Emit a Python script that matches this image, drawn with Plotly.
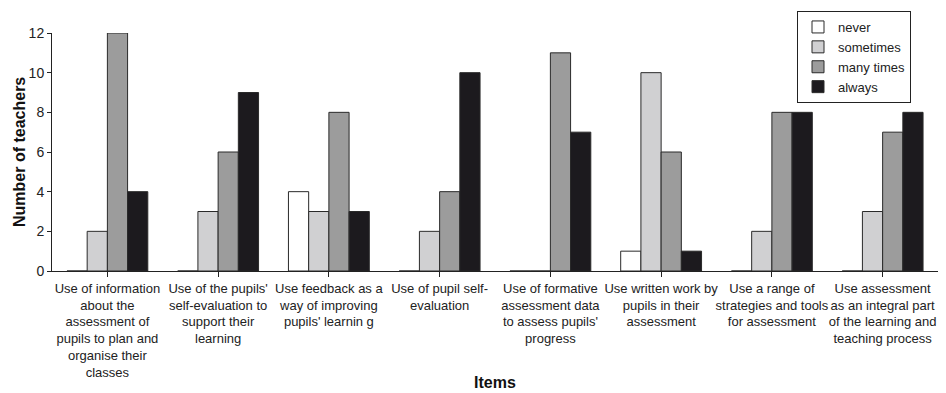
import plotly.graph_objects as go

categories = [
    "Use of information<br>about the<br>assessment of<br>pupils to plan and<br>organise their<br>classes",
    "Use of the pupils'<br>self-evaluation to<br>support their<br>learning",
    "Use feedback as a<br>way of improving<br>pupils' learnin g",
    "Use of pupil self-<br>evaluation",
    "Use of formative<br>assessment data<br>to assess pupils'<br>progress",
    "Use written work by<br>pupils in their<br>assessment",
    "Use a range of<br>strategies and tools<br>for assessment",
    "Use assessment<br>as an integral part<br>of the learning and<br>teaching process",
]
never = [0, 0, 4, 0, 0, 1, 0, 0]
sometimes = [2, 3, 3, 2, 0, 10, 2, 3]
many_times = [12, 6, 8, 4, 11, 6, 8, 7]
always = [4, 9, 3, 10, 7, 1, 8, 8]

series = [
    ("never", never, "#ffffff"),
    ("sometimes", sometimes, "#d0d0d2"),
    ("many times", many_times, "#9c9c9c"),
    ("always", always, "#1c1a1e"),
]

FONT = "Liberation Sans, Arial, sans-serif"

# page has an 8px body margin: figure is drawn at (8, 8)
OFF = 8
L, R, T, B = 52 - OFF, 8, 33 - OFF, 122
W, H = 946 - OFF, 393 - OFF
PW = W - L - R
PH = H - T - B

fig = go.Figure()
for name, vals, col in series:
    fig.add_trace(go.Bar(
        x=list(range(len(categories))), y=vals, name=name,
        marker=dict(color=col, line=dict(color="#2a2a2a", width=1)),
    ))

fig.update_layout(
    width=W, height=H,
    margin=dict(l=L, r=R, t=T, b=B, autoexpand=False),
    paper_bgcolor="white", plot_bgcolor="white",
    barmode="group", bargap=0.27, bargroupgap=0,
    font=dict(family=FONT, size=13, color="#222222"),
    showlegend=True,
    legend=dict(
        x=(797 - 52) / PW, y=1 + (33 - 11) / PH,
        xanchor="left", yanchor="top",
        bordercolor="#222222", borderwidth=1,
        bgcolor="white",
        font=dict(family=FONT, size=13, color="#222222"),
        tracegroupgap=0, itemwidth=30,
    ),
    xaxis=dict(
        tickmode="array",
        tickvals=list(range(len(categories))),
        ticktext=categories,
        range=[-0.5, len(categories) - 0.5],
        showline=True, linecolor="#222222", linewidth=1,
        ticks="outside", ticklen=5, tickcolor="#222222",
        showgrid=False, zeroline=False,
        tickangle=0,
        tickfont=dict(family=FONT, size=13, color="#222222"),
    ),
    yaxis=dict(
        range=[0, 12], dtick=2,
        showline=True, linecolor="#222222", linewidth=1,
        ticks="outside", ticklen=4, tickcolor="#222222",
        showgrid=False, zeroline=False,
        tickfont=dict(family=FONT, size=14, color="#222222"),
    ),
    annotations=[
        dict(text="<b>Number of teachers</b>", xref="paper", yref="paper",
             x=0, y=0.5, xanchor="center", yanchor="middle",
             textangle=-90, showarrow=False,
             font=dict(family=FONT, size=16, color="#111111"),
             xshift=-(52 - 19)),
        dict(text="<b>Items</b>", xref="paper", yref="paper",
             x=(495 - 52) / PW, y=0, yanchor="middle", xanchor="center",
             yshift=-(382 - 271), showarrow=False,
             font=dict(family=FONT, size=16, color="#111111")),
    ],
)

fig.write_html("out.html")
